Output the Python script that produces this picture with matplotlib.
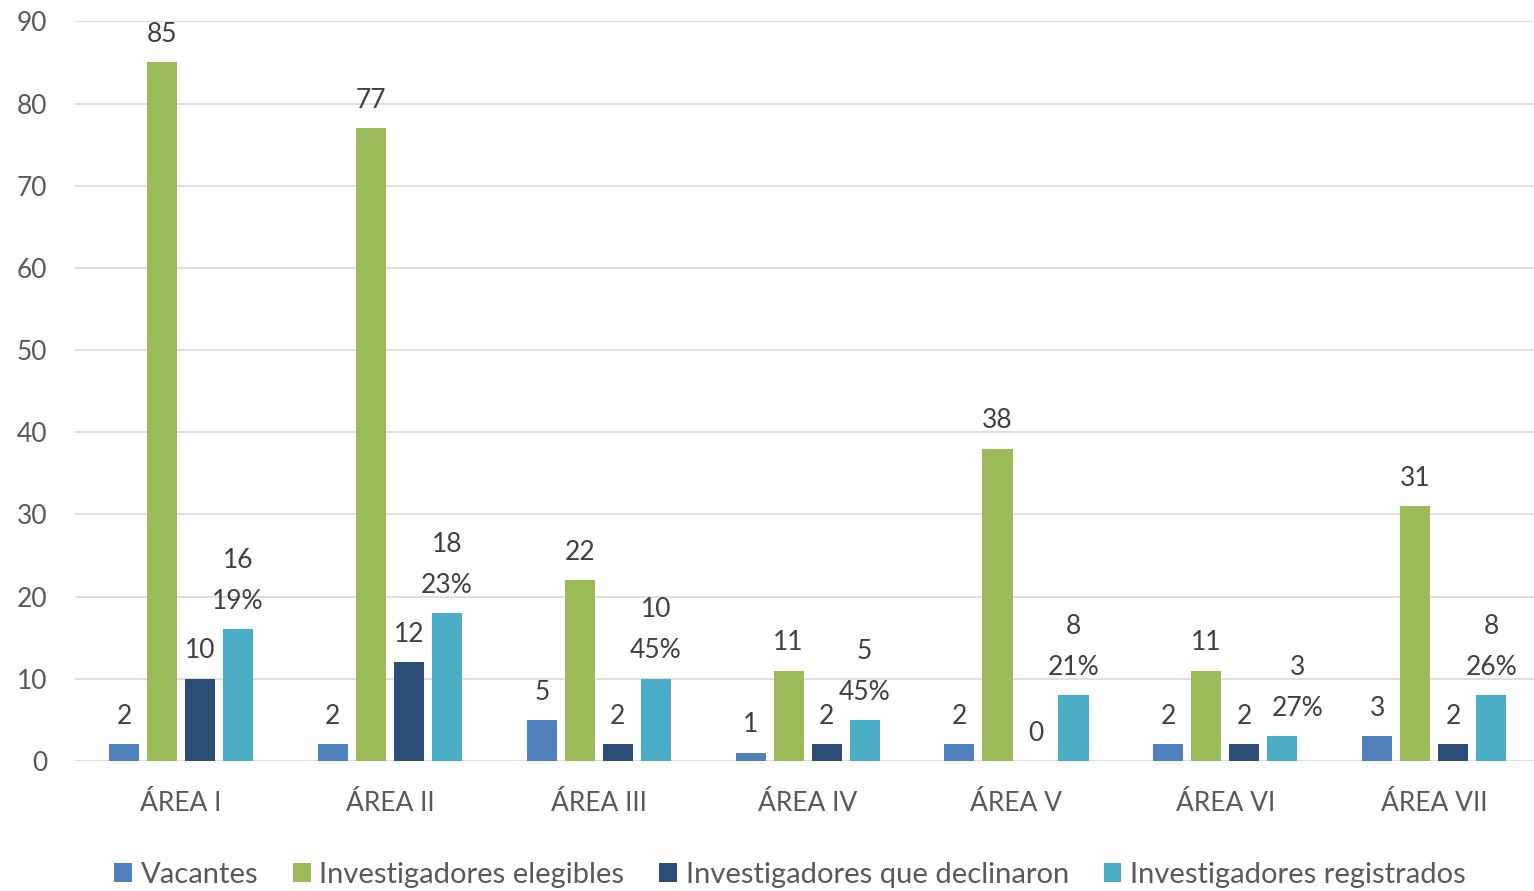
import matplotlib
matplotlib.use("Agg")
import matplotlib.pyplot as plt
import numpy as np

categories = ["ÁREA I", "ÁREA II", "ÁREA III", "ÁREA IV", "ÁREA V", "ÁREA VI", "ÁREA VII"]
vacantes = [2, 2, 5, 1, 2, 2, 3]
elegibles = [85, 77, 22, 11, 38, 11, 31]
declinaron = [10, 12, 2, 2, 0, 2, 2]
registrados = [16, 18, 10, 5, 8, 3, 8]
porcentajes = ["19%", "23%", "45%", "45%", "21%", "27%", "26%"]
series_names = ["Vacantes", "Investigadores elegibles", "Investigadores que declinaron", "Investigadores registrados"]
colors = ["#4F81BD", "#9BBB59", "#2C4D75", "#4BACC6"]

plt.rcParams['font.family'] = ['Lato', 'DejaVu Sans']

fig = plt.figure(figsize=(15.34, 8.91), dpi=100)
ax = fig.add_axes([0.049, 0.146, 0.954, 0.830])

x = np.arange(len(categories))
pitch = 0.182
width = 0.144
series = [vacantes, elegibles, declinaron, registrados]
label_color = "#404040"
fs = 19
for i, (vals, name, c) in enumerate(zip(series, series_names, colors)):
    pos = x + (i - 1.5) * pitch
    ax.bar(pos, vals, width, color=c, label=name, zorder=3)
    for j, (p, v) in enumerate(zip(pos, vals)):
        if i == 3:
            txt = f"{v}\n{porcentajes[j]}"
            # small horizontal nudge where the label would collide with its neighbour
            dx = 11 if v < 4 else 0
            ax.annotate(txt, (p, v), xytext=(dx, 11), textcoords="offset points",
                        ha="center", va="bottom", fontsize=fs, color=label_color,
                        linespacing=1.8)
        else:
            ax.annotate(str(v), (p, v), xytext=(0, 11), textcoords="offset points",
                        ha="center", va="bottom", fontsize=fs, color=label_color)

ax.set_ylim(0, 90)
ax.set_xlim(-0.507, 6.5)
ax.set_yticks(np.arange(0, 91, 10))
ax.set_xticks(x)
ax.set_xticklabels(categories)
ax.tick_params(axis="both", length=0, labelsize=fs, colors="#595959")
ax.tick_params(axis="y", pad=20)
ax.tick_params(axis="x", pad=22)
ax.yaxis.grid(True, color="#d9d9d9", linewidth=1.2, zorder=0)
for s in ax.spines.values():
    s.set_visible(False)

leg = fig.legend(loc="lower center", bbox_to_anchor=(0.515, -0.026), ncol=4, frameon=False,
                 fontsize=21, handlelength=0.6, handleheight=0.6, handletextpad=0.3,
                 columnspacing=1.2, labelcolor="#595959")

fig.savefig("out.png", dpi=100)
